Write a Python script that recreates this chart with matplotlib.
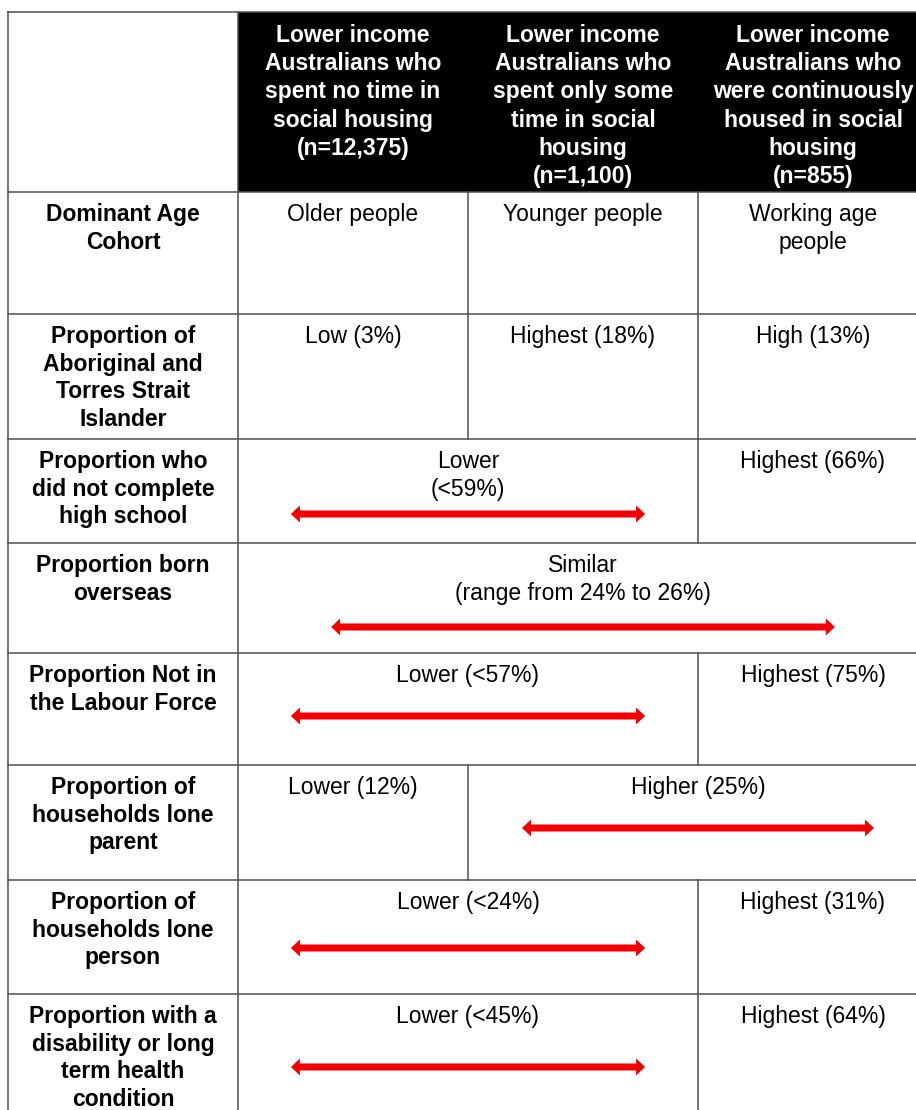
"""Table graphic: profile of lower income Australians by social housing use."""
import matplotlib
matplotlib.use("Agg")
import matplotlib.pyplot as plt
from matplotlib.patches import Rectangle

plt.rcParams["font.family"] = ["Liberation Sans", "DejaVu Sans"]

# ---- data ----
headers = [
    "Lower income\nAustralians who\nspent no time in\nsocial housing\n(n=12,375)",
    "Lower income\nAustralians who\nspent only some\ntime in social\nhousing\n(n=1,100)",
    "Lower income\nAustralians who\nwere continuously\nhoused in social\nhousing\n(n=855)",
]
row_labels = [
    "Dominant Age\nCohort",
    "Proportion of\nAboriginal and\nTorres Strait\nIslander",
    "Proportion who\ndid not complete\nhigh school",
    "Proportion born\noverseas",
    "Proportion Not in\nthe Labour Force",
    "Proportion of\nhouseholds lone\nparent",
    "Proportion of\nhouseholds lone\nperson",
    "Proportion with a\ndisability or long\nterm health\ncondition",
]
# (text, first column, last column, has arrow)
row_cells = [
    [("Older people", 1, 1, False), ("Younger people", 2, 2, False),
     ("Working age\npeople", 3, 3, False)],
    [("Low (3%)", 1, 1, False), ("Highest (18%)", 2, 2, False),
     ("High (13%)", 3, 3, False)],
    [("Lower\n(<59%)", 1, 2, True), ("Highest (66%)", 3, 3, False)],
    [("Similar\n(range from 24% to 26%)", 1, 3, True)],
    [("Lower (<57%)", 1, 2, True), ("Highest (75%)", 3, 3, False)],
    [("Lower (12%)", 1, 1, False), ("Higher (25%)", 2, 3, True)],
    [("Lower (<24%)", 1, 2, True), ("Highest (31%)", 3, 3, False)],
    [("Lower (<45%)", 1, 2, True), ("Highest (64%)", 3, 3, False)],
]

# ---- layout (pixels) ----
W, H = 916, 1110
COL_X = [8, 238, 468, 698, 928]
ROW_Y = [12, 192, 314, 439, 543, 653, 765, 880, 994, 1130]
ARROW_DY = [0, 0, 75, 84, 63, 63, 68, 73]      # arrow offset below cell top
ARROW_FRAC = [0, 0, 0.77, 0.73, 0.77, 0.765, 0.77, 0.77]
LINE = "#505050"
RED = "#f20000"
FS = 16.5

fig = plt.figure(figsize=(W / 100, H / 100), dpi=100)
ax = fig.add_axes([0, 0, 1, 1])
ax.set_xlim(0, W)
ax.set_ylim(H, 0)
ax.axis("off")

# header
ax.add_patch(Rectangle((COL_X[1], ROW_Y[0]), COL_X[4] - COL_X[1],
                       ROW_Y[1] - ROW_Y[0], color="black", lw=0))
for i, h in enumerate(headers):
    cx = (COL_X[i + 1] + COL_X[i + 2]) / 2
    ax.text(cx, ROW_Y[0] + 12, h, ha="center", va="top", color="white",
            fontsize=FS, fontweight="bold", linespacing=1.29)

# grid lines
for y in ROW_Y[:-1]:
    ax.plot([COL_X[0], W], [y, y], color=LINE, lw=1.1)
ax.plot([COL_X[0], COL_X[0]], [ROW_Y[0], H], color=LINE, lw=1.1)
ax.plot([COL_X[1], COL_X[1]], [ROW_Y[0], H], color=LINE, lw=1.1)

for r, cells in enumerate(row_cells):
    top, bot = ROW_Y[r + 1], ROW_Y[r + 2]
    ax.text((COL_X[0] + COL_X[1]) / 2, top + 11, row_labels[r], ha="center",
            va="top", fontsize=FS, fontweight="bold", linespacing=1.26)
    for text, c0, c1, arrow in cells:
        x0, x1 = COL_X[c0], COL_X[c1 + 1]
        if c0 > 1:
            ax.plot([x0, x0], [top, bot], color=LINE, lw=1.1)
        cx = (x0 + x1) / 2
        ax.text(cx, top + 11, text, ha="center", va="top", fontsize=FS,
                linespacing=1.26)
        if arrow:
            half = ARROW_FRAC[r] * (x1 - x0) / 2
            y = top + ARROW_DY[r]
            for d in (half, -half):
                ax.arrow(cx, y, d, 0, width=7, head_width=17, head_length=9,
                         length_includes_head=True, color=RED, lw=0)

fig.savefig("out.png", dpi=100)
plt.close(fig)
